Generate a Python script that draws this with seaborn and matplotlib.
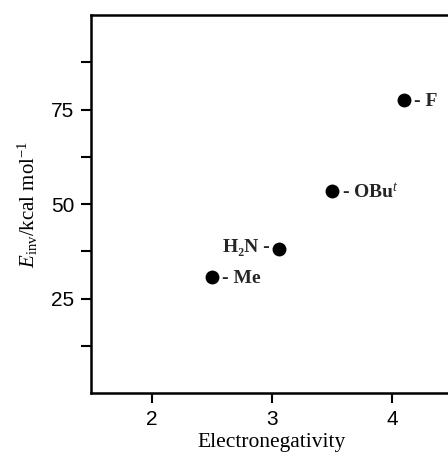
import matplotlib
matplotlib.use("Agg")
import matplotlib.pyplot as plt
import seaborn as sns
import pandas as pd

# data
substituents = ["Me", "H2N", "OBut", "F"]
electronegativity = [2.5, 3.06, 3.5, 4.1]
e_inv = [30.6, 38.0, 53.5, 77.4]
labels = ["- Me", "H\u2082N -", "- OBu$^{t}$", "- F"]
label_side = ["right", "left", "right", "right"]
x_ticks = [2, 3, 4]
y_ticks = [25, 50, 75]
y_minor = [12.5, 37.5, 62.5, 87.5]

sns.set_theme(style="ticks")
plt.rcParams["font.family"] = ["Liberation Sans", "DejaVu Sans"]
plt.rcParams["mathtext.fontset"] = "custom"
plt.rcParams["mathtext.rm"] = "Liberation Serif"
plt.rcParams["mathtext.it"] = "Liberation Serif:italic"
plt.rcParams["mathtext.bf"] = "Liberation Serif:bold"
plt.rcParams["mathtext.default"] = "it"

df = pd.DataFrame({"en": electronegativity, "e": e_inv, "lab": labels})

fig = plt.figure(figsize=(4.48, 4.55), dpi=100)
ax = fig.add_axes([91/448, 1 - 393/455, (452-91)/448, (393-15)/455])

sns.scatterplot(data=df, x="en", y="e", ax=ax, s=100, color="black",
                edgecolor="black", linewidth=0, zorder=3)

for xv, yv, lab, side in zip(electronegativity, e_inv, labels, label_side):
    if side == "right":
        ax.annotate(lab, (xv, yv), xytext=(7, -1), textcoords="offset points",
                    ha="left", va="center", fontsize=14,
                    family="Liberation Serif", fontweight="bold")
    else:
        ax.annotate(lab, (xv, yv), xytext=(-7, 1), textcoords="offset points",
                    ha="right", va="center", fontsize=14,
                    family="Liberation Serif", fontweight="bold")

ax.set_xlim(1.49, 4.5)
ax.set_ylim(0, 100)
ax.set_xticks(x_ticks)
ax.set_yticks(y_ticks)
ax.set_yticks(y_minor, minor=True)
ax.tick_params(axis="both", which="both", direction="out", length=7, width=1.5,
               color="black", labelsize=15, labelcolor="black", pad=5)

for sp in ["left", "bottom", "top", "right"]:
    ax.spines[sp].set_linewidth(1.8)
    ax.spines[sp].set_color("black")

ax.set_xlabel("Electronegativity", family="Liberation Serif", fontsize=15.5,
              labelpad=3, color="black")
ax.set_ylabel("$E_{\\mathrm{inv}}$/kcal mol$^{\\mathrm{-1}}$", family="Liberation Serif",
              fontsize=15, labelpad=8, color="black")

fig.savefig("out.png", dpi=100)
